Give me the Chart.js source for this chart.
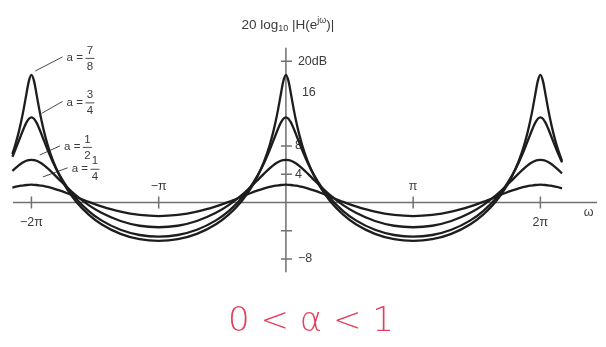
<!DOCTYPE html>
<html>
<head>
<meta charset="utf-8">
<script src="https://cdn.jsdelivr.net/npm/chart.js@4/dist/chart.umd.min.js"></script>
<style>
  html, body { margin: 0; padding: 0; background: #ffffff; }
  #wrap { width: 606px; height: 347px; position: relative; }
</style>
</head>
<body>
<div id="wrap"><canvas id="c"></canvas></div>
<script>
// Frequency ω, in multiples of π
const omega = [
  -2.15, -2.13, -2.10, -2.08, -2.06, -2.04, -2.02, -2.00,
  -1.98, -1.96, -1.94, -1.92, -1.90, -1.87, -1.83, -1.78, -1.72, -1.65, -1.55, -1.45, -1.30, -1.15, -1.00,
  -0.85, -0.70, -0.55, -0.45, -0.35, -0.28, -0.22, -0.17, -0.13, -0.10, -0.08, -0.06, -0.04, -0.02, 0,
  0.02, 0.04, 0.06, 0.08, 0.10, 0.13, 0.17, 0.22, 0.28, 0.35, 0.45, 0.55, 0.70, 0.85, 1.00,
  1.15, 1.30, 1.45, 1.55, 1.65, 1.72, 1.78, 1.83, 1.87, 1.90, 1.92, 1.94, 1.96, 1.98, 2.00,
  2.02, 2.04, 2.06, 2.08, 2.10, 2.13, 2.17
];

// 20 log10 |H(e^jω)| in dB for each value of a
const gainA78 = [
  6.85, 7.97, 9.95, 11.51, 13.31, 15.31, 17.20, 18.06,
  17.20, 15.31, 13.31, 11.51, 9.95, 7.97, 5.86, 3.80, 1.87, 0.13, -1.74, -3.10, -4.46, -5.22, -5.46,
  -5.22, -4.46, -3.10, -1.74, 0.13, 1.87, 3.80, 5.86, 7.97, 9.95, 11.51, 13.31, 15.31, 17.20, 18.06,
  17.20, 15.31, 13.31, 11.51, 9.95, 7.97, 5.86, 3.80, 1.87, 0.13, -1.74, -3.10, -4.46, -5.22, -5.46,
  -5.22, -4.46, -3.10, -1.74, 0.13, 1.87, 3.80, 5.86, 7.97, 9.95, 11.51, 13.31, 15.31, 17.20, 18.06,
  17.20, 15.31, 13.31, 11.51, 9.95, 7.97, 5.86
];
const gainA34 = [
  6.46, 7.31, 8.67, 9.60, 10.50, 11.29, 11.84, 12.04,
  11.84, 11.29, 10.50, 9.60, 8.67, 7.31, 5.66, 3.91, 2.17, 0.55, -1.23, -2.55, -3.88, -4.62, -4.86,
  -4.62, -3.88, -2.55, -1.23, 0.55, 2.17, 3.91, 5.66, 7.31, 8.67, 9.60, 10.50, 11.29, 11.84, 12.04,
  11.84, 11.29, 10.50, 9.60, 8.67, 7.31, 5.66, 3.91, 2.17, 0.55, -1.23, -2.55, -3.88, -4.62, -4.86,
  -4.62, -3.88, -2.55, -1.23, 0.55, 2.17, 3.91, 5.66, 7.31, 8.67, 9.60, 10.50, 11.29, 11.84, 12.04,
  11.84, 11.29, 10.50, 9.60, 8.67, 7.31, 5.66
];
const gainA12 = [
  4.45, 4.79, 5.24, 5.51, 5.72, 5.89, 5.99, 6.02,
  5.99, 5.89, 5.72, 5.51, 5.24, 4.79, 4.10, 3.19, 2.13, 0.99, -0.39, -1.48, -2.64, -3.31, -3.52,
  -3.31, -2.64, -1.48, -0.39, 0.99, 2.13, 3.19, 4.10, 4.79, 5.24, 5.51, 5.72, 5.89, 5.99, 6.02,
  5.99, 5.89, 5.72, 5.51, 5.24, 4.79, 4.10, 3.19, 2.13, 0.99, -0.39, -1.48, -2.64, -3.31, -3.52,
  -3.31, -2.64, -1.48, -0.39, 0.99, 2.13, 3.19, 4.10, 4.79, 5.24, 5.51, 5.72, 5.89, 5.99, 6.02,
  5.99, 5.89, 5.72, 5.51, 5.24, 4.79, 4.10
];
const gainA14 = [
  2.10, 2.19, 2.31, 2.37, 2.42, 2.46, 2.49, 2.50,
  2.49, 2.46, 2.42, 2.37, 2.31, 2.19, 1.99, 1.69, 1.29, 0.78, 0.07, -0.57, -1.32, -1.78, -1.94,
  -1.78, -1.32, -0.57, 0.07, 0.78, 1.29, 1.69, 1.99, 2.19, 2.31, 2.37, 2.42, 2.46, 2.49, 2.50,
  2.49, 2.46, 2.42, 2.37, 2.31, 2.19, 1.99, 1.69, 1.29, 0.78, 0.07, -0.57, -1.32, -1.78, -1.94,
  -1.78, -1.32, -0.57, 0.07, 0.78, 1.29, 1.69, 1.99, 2.19, 2.31, 2.37, 2.42, 2.46, 2.49, 2.50,
  2.49, 2.46, 2.42, 2.37, 2.31, 2.19, 1.99
];

// Curve labels (a = num/den)
const seriesNum = ['7', '3', '1', '1'];
const seriesDen = ['8', '4', '2', '4'];

// Axis ticks
const xTickValues = [-2, -1, 1, 2];
const xTickLabels = ['\u22122\u03c0', '\u2212\u03c0', '\u03c0', '2\u03c0'];
const yTickValues = [20, 16, 8, 4, -4, -8];
const yTickLabels = ['20dB', '16', '8', '4', '', '\u22128'];

// Layout of annotations, in axis units (ω/π, dB)
const leaderLines = [
  { from: [-1.97, 18.6], to: [-1.755, 20.6] },
  { from: [-1.92, 12.6], to: [-1.755, 14.3] },
  { from: [-1.935, 6.7], to: [-1.775, 8.0] },
  { from: [-1.91, 3.6], to: [-1.715, 4.9] }
];
const xLabelBelow = [true, false, false, true];
const yLabelShift = [12, 16, 9, 9, 0, 12];

const toPoints = ys => omega.map((w, i) => ({ x: w, y: ys[i] }));

const curveStyle = {
  borderColor: '#1d1d1d',
  borderWidth: 2.3,
  pointRadius: 0,
  fill: false,
  cubicInterpolationMode: 'monotone'
};

const FONT = '"Liberation Sans", Arial, sans-serif';

const axesAndText = {
  id: 'axesAndText',
  beforeDraw(chart) {
    const ctx = chart.ctx;
    ctx.save();
    ctx.fillStyle = '#ffffff';
    ctx.fillRect(0, 0, chart.width, chart.height);
    ctx.restore();
  },
  beforeDatasetsDraw(chart) {
    const ctx = chart.ctx;
    const sx = chart.scales.x, sy = chart.scales.y;
    const X = v => sx.getPixelForValue(v);
    const Y = v => sy.getPixelForValue(v);
    const x0 = X(0), y0 = Y(0);
    ctx.save();
    ctx.strokeStyle = '#707070';
    ctx.lineWidth = 1.5;
    ctx.beginPath();
    ctx.moveTo(X(-2.145), y0); ctx.lineTo(X(2.445), y0);
    ctx.moveTo(x0, Y(21.9)); ctx.lineTo(x0, Y(-9.9));
    xTickValues.forEach(v => { ctx.moveTo(X(v), y0 - 6); ctx.lineTo(X(v), y0 + 6); });
    yTickValues.forEach(v => { if (v !== 16) { ctx.moveTo(x0 - 5, Y(v)); ctx.lineTo(x0 + 6, Y(v)); } });
    ctx.stroke();

    // tick labels
    ctx.fillStyle = '#3a3a3a';
    ctx.font = '12.5px ' + FONT;
    ctx.textBaseline = 'middle';
    ctx.textAlign = 'center';
    xTickValues.forEach((v, i) => {
      ctx.fillText(xTickLabels[i], X(v), xLabelBelow[i] ? y0 + 20 : y0 - 16);
    });
    ctx.textAlign = 'left';
    yTickValues.forEach((v, i) => {
      if (yTickLabels[i]) ctx.fillText(yTickLabels[i], x0 + yLabelShift[i], Y(v) + (v === 16 ? 3 : 0));
    });
    ctx.textAlign = 'center';
    ctx.fillText('\u03c9', X(2.38), y0 + 10);

    // axis title: 20 log10 |H(e^jω)|
    const parts = [
      { t: '20 log', size: 13.5, dy: 0 },
      { t: '10', size: 9, dy: 3.5 },
      { t: ' |H(e', size: 13.5, dy: 0 },
      { t: 'j\u03c9', size: 9, dy: -4.5 },
      { t: ')|', size: 13.5, dy: 0 }
    ];
    ctx.textAlign = 'left';
    let total = 0;
    parts.forEach(p => { ctx.font = p.size + 'px ' + FONT; p.w = ctx.measureText(p.t).width; total += p.w; });
    let tx = x0 + 2 - total / 2;
    const ty = 25;
    parts.forEach(p => {
      ctx.font = p.size + 'px ' + FONT;
      ctx.fillText(p.t, tx, ty + p.dy);
      tx += p.w;
    });

    // curve labels with leader lines
    ctx.strokeStyle = '#4a4a4a';
    ctx.lineWidth = 1;
    leaderLines.forEach((L, i) => {
      const ax = X(L.from[0]), ay = Y(L.from[1]);
      const bx = X(L.to[0]), by = Y(L.to[1]);
      ctx.beginPath(); ctx.moveTo(ax, ay); ctx.lineTo(bx, by); ctx.stroke();
      ctx.font = '11.5px ' + FONT;
      ctx.textAlign = 'left';
      ctx.fillStyle = '#3a3a3a';
      ctx.fillText('a =', bx + 4, by + 1);
      const fx = bx + 4 + ctx.measureText('a =').width + 7;
      ctx.textAlign = 'center';
      ctx.fillText(seriesNum[i], fx, by - 6.5);
      ctx.fillText(seriesDen[i], fx, by + 9.5);
      ctx.beginPath(); ctx.moveTo(fx - 4.5, by + 1.5); ctx.lineTo(fx + 4.5, by + 1.5); ctx.stroke();
    });

    // condition written below the chart
    ctx.fillStyle = '#e2405a';
    ctx.font = '300 34px "DejaVu Sans", sans-serif';
    ctx.textAlign = 'center';
    ctx.fillText('0 < \u03b1 < 1', 311, 322);
    ctx.restore();
  }
};

new Chart(document.getElementById('c'), {
  type: 'line',
  data: {
    datasets: [
      Object.assign({ label: 'a = 7/8', data: toPoints(gainA78) }, curveStyle),
      Object.assign({ label: 'a = 3/4', data: toPoints(gainA34) }, curveStyle),
      Object.assign({ label: 'a = 1/2', data: toPoints(gainA12) }, curveStyle),
      Object.assign({ label: 'a = 1/4', data: toPoints(gainA14) }, curveStyle)
    ]
  },
  options: {
    responsive: true,
    maintainAspectRatio: false,
    devicePixelRatio: 1,
    animation: false,
    layout: { padding: { left: 6, right: 2, top: 47, bottom: 74 } },
    plugins: { legend: { display: false }, tooltip: { enabled: false } },
    scales: {
      x: { type: 'linear', min: -2.2, max: 2.5, display: false },
      y: { type: 'linear', min: -10, max: 22, display: false }
    }
  },
  plugins: [axesAndText]
});
</script>
</body>
</html>
